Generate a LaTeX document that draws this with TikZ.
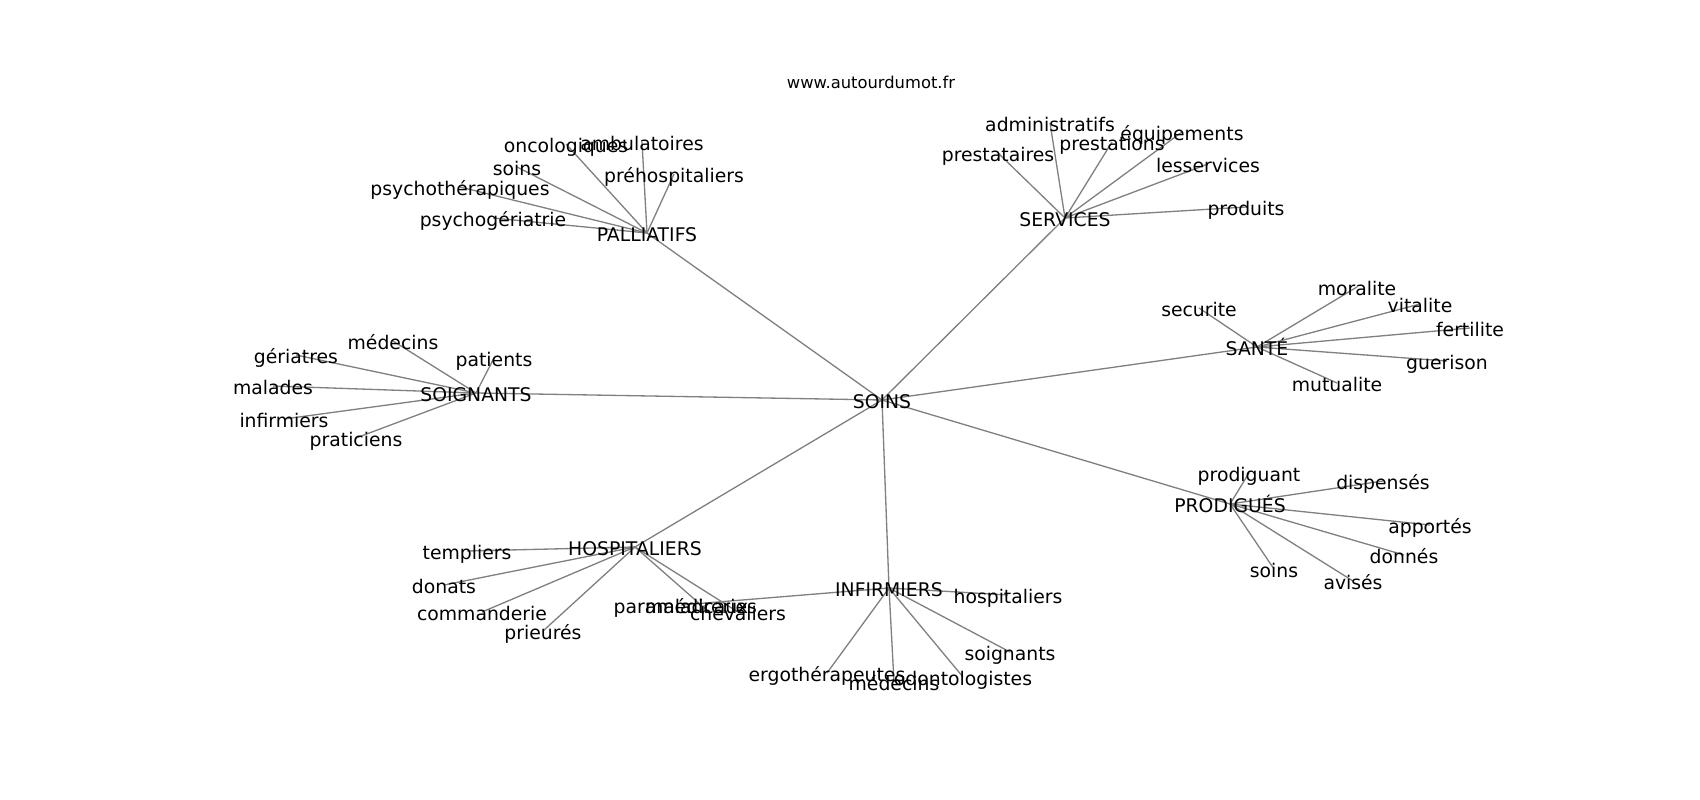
\documentclass[tikz,border=0pt]{standalone}
\usepackage{fontspec}
\setmainfont{DejaVu Sans}
\usetikzlibrary{backgrounds}

\begin{document}
\begin{tikzpicture}[x=0.02cm, y=-0.02cm]
  \tikzstyle{mot}=[inner sep=0, text height=9.4pt, text depth=0pt, font=\fontsize{10.7}{12}\selectfont];
  \tikzstyle{lien}=[draw=gray, line width=0.75pt];

  \useasboundingbox (0, 0) rectangle (1700, 800);

  \node[inner sep=0, font=\fontsize{9.3}{11}\selectfont] (titre) at (871, 82) {www.autourdumot.fr};

  \node[mot] (soins) at (882, 400) {SOINS};

  % palliatifs
  \node[mot] (palliatifs) at (647, 233) {PALLIATIFS};
  \node[mot] (ambulatoires) at (642, 142) {ambulatoires};
  \node[mot] (oncologiques) at (566, 144) {oncologiques};
  \node[mot] (soinsPal) at (517, 167) {soins};
  \node[mot] (prehospitaliers) at (674, 174) {préhospitaliers};
  \node[mot] (psychotherapiques) at (460, 187) {psychothérapiques};
  \node[mot] (psychogeriatrie) at (493, 218) {psychogériatrie};

  % services
  \node[mot] (services) at (1065, 218) {SERVICES};
  \node[mot] (administratifs) at (1050, 123) {administratifs};
  \node[mot] (prestataires) at (998, 153) {prestataires};
  \node[mot] (prestations) at (1112, 142) {prestations};
  \node[mot] (equipements) at (1182, 132) {équipements};
  \node[mot] (lesservices) at (1208, 164) {lesservices};
  \node[mot] (produits) at (1246, 207) {produits};

  % sante
  \node[mot] (sante) at (1257, 347) {SANTÉ};
  \node[mot] (securite) at (1199, 308) {securite};
  \node[mot] (moralite) at (1357, 287) {moralite};
  \node[mot] (vitalite) at (1420, 304) {vitalite};
  \node[mot] (fertilite) at (1470, 328) {fertilite};
  \node[mot] (guerison) at (1447, 361) {guerison};
  \node[mot] (mutualite) at (1337, 383) {mutualite};

  % prodigues
  \node[mot] (prodigues) at (1230, 504) {PRODIGUÉS};
  \node[mot] (prodiguant) at (1249, 473) {prodiguant};
  \node[mot] (dispenses) at (1383, 481) {dispensés};
  \node[mot] (apportes) at (1430, 525) {apportés};
  \node[mot] (donnes) at (1404, 555) {donnés};
  \node[mot] (avises) at (1353, 581) {avisés};
  \node[mot] (soinsPro) at (1274, 569) {soins};

  % infirmiers
  \node[mot] (infirmiers) at (889, 588) {INFIRMIERS};
  \node[mot] (hospitaliersI) at (1008, 595) {hospitaliers};
  \node[mot] (soignantsI) at (1010, 652) {soignants};
  \node[mot] (odontologistes) at (963, 677) {odontologistes};
  \node[mot] (medecinsI) at (894, 682) {médecins};
  \node[mot] (ergotherapeutes) at (827, 673) {ergothérapeutes};
  \node[mot] (paramedicaux) at (681, 605) {paramédicaux};

  % hospitaliers
  \node[mot] (hospitaliers) at (635, 547) {HOSPITALIERS};
  \node[mot] (templiers) at (467, 551) {templiers};
  \node[mot] (donats) at (444, 585) {donats};
  \node[mot] (commanderie) at (482, 612) {commanderie};
  \node[mot] (prieures) at (543, 631) {prieurés};
  \node[mot] (maladreries) at (701, 605) {maladreries};
  \node[mot] (chevaliers) at (738, 612) {chevaliers};

  % soignants
  \node[mot] (soignants) at (476, 393) {SOIGNANTS};
  \node[mot] (medecinsS) at (393, 341) {médecins};
  \node[mot] (geriatres) at (296, 355) {gériatres};
  \node[mot] (patients) at (494, 358) {patients};
  \node[mot] (malades) at (273, 386) {malades};
  \node[mot] (infirmiersS) at (284, 419) {infirmiers};
  \node[mot] (praticiens) at (356, 438) {praticiens};

  \begin{pgfonlayer}{background}
    \foreach \S in {palliatifs, services, sante, prodigues, infirmiers, hospitaliers, soignants} {
      \draw[lien] (soins.center) -- (\S.center);
    }
    \foreach \S in {ambulatoires, oncologiques, soinsPal, prehospitaliers, psychotherapiques, psychogeriatrie} {
      \draw[lien] (palliatifs.center) -- (\S.center);
    }
    \foreach \S in {administratifs, prestataires, prestations, equipements, lesservices, produits} {
      \draw[lien] (services.center) -- (\S.center);
    }
    \foreach \S in {securite, moralite, vitalite, fertilite, guerison, mutualite} {
      \draw[lien] (sante.center) -- (\S.center);
    }
    \foreach \S in {prodiguant, dispenses, apportes, donnes, avises, soinsPro} {
      \draw[lien] (prodigues.center) -- (\S.center);
    }
    \foreach \S in {hospitaliersI, soignantsI, odontologistes, medecinsI, ergotherapeutes, paramedicaux} {
      \draw[lien] (infirmiers.center) -- (\S.center);
    }
    \foreach \S in {templiers, donats, commanderie, prieures, maladreries, chevaliers} {
      \draw[lien] (hospitaliers.center) -- (\S.center);
    }
    \foreach \S in {medecinsS, geriatres, patients, malades, infirmiersS, praticiens} {
      \draw[lien] (soignants.center) -- (\S.center);
    }
  \end{pgfonlayer}
\end{tikzpicture}
\end{document}
